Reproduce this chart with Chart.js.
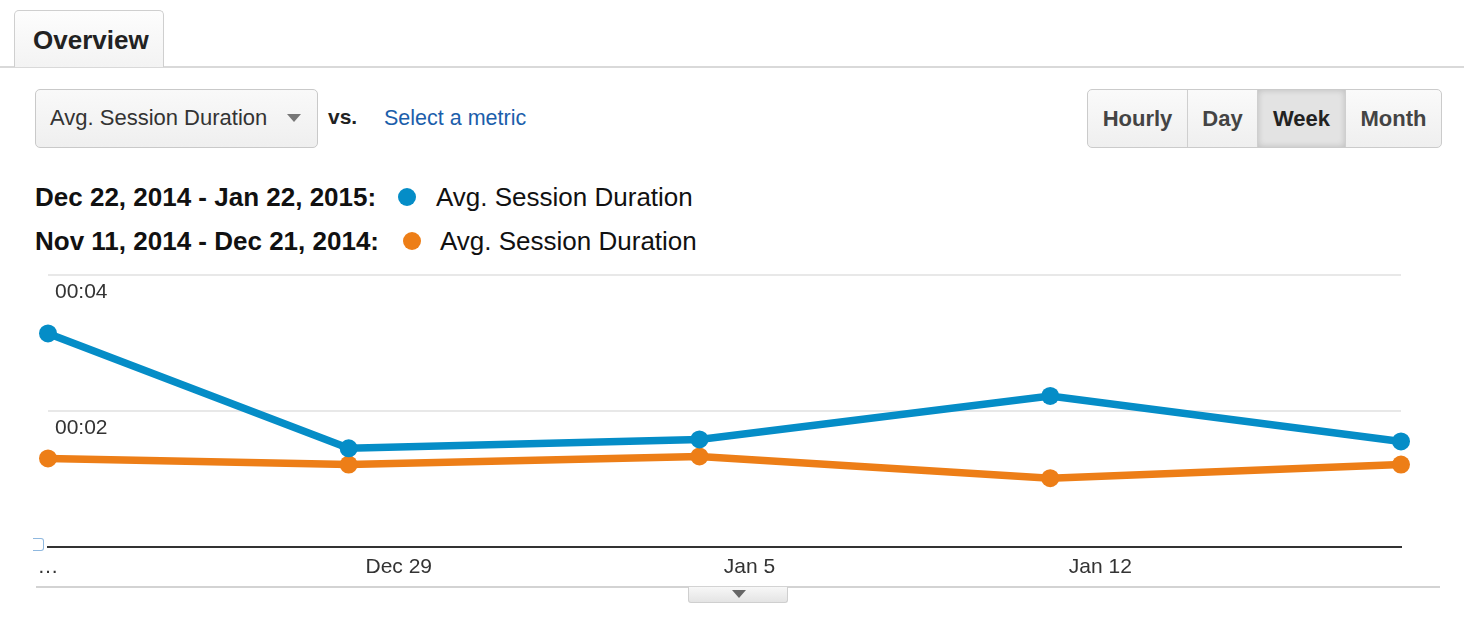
<!DOCTYPE html>
<html>
<head>
<meta charset="utf-8">
<script src="https://cdn.jsdelivr.net/npm/chart.js@4.4.1/dist/chart.umd.min.js"></script>
<style>
  body { margin: 0; background: #fff; font-family: "Liberation Sans", Arial, Helvetica, sans-serif; width: 1464px; height: 628px; position: relative; overflow: hidden; }
  .abs { position: absolute; }
  .tabline { left: 0; top: 66px; width: 1464px; height: 2px; background: #d9d9d9; }
  .tab { left: 14px; top: 10px; width: 150px; height: 57px; border: 1.5px solid #cfcfcf; border-bottom: none; border-radius: 5px 5px 0 0; background: linear-gradient(#fdfdfd, #f3f3f3); box-sizing: border-box; }
  .tab span { position: absolute; left: 18px; top: 14px; font-weight: bold; font-size: 26px; color: #222; }
  .dropdown { left: 35px; top: 89px; width: 283px; height: 59px; border: 1.5px solid #c9c9c9; border-radius: 5px; background: linear-gradient(#f9f9f9, #efefef); box-sizing: border-box; }
  .dropdown span { position: absolute; left: 14px; top: 15px; font-size: 22px; color: #333; }
  .caret { width: 0; height: 0; border-left: 7px solid transparent; border-right: 7px solid transparent; border-top: 8px solid #777; }
  .vs { left: 328px; top: 105px; font-size: 21px; font-weight: bold; color: #222; }
  .link { left: 384px; top: 106px; font-size: 21.5px; color: #1b5eab; }
  .btns { left: 1087px; top: 89px; width: 355px; height: 59px; border: 1.5px solid #cbcbcb; border-radius: 5px; box-sizing: border-box; overflow: hidden; display: flex; background: linear-gradient(#fafafa, #efefef); }
  .btns div { height: 100%; font-size: 22px; font-weight: bold; color: #444; display: flex; align-items: center; justify-content: center; border-right: 1.5px solid #cfcfcf; box-sizing: border-box; }
  .btns div:last-child { border-right: none; }
  .btns .on { background: #e3e3e3; box-shadow: inset 0 0 6px rgba(0,0,0,0.18); color: #222; }
  .leg { font-size: 26px; color: #111; }
  .leg b { position: absolute; left: 35px; top: 0; white-space: nowrap; }
  .leg i { position: absolute; width: 18px; height: 18px; border-radius: 50%; top: 6px; }
  .leg span { position: absolute; top: 0; white-space: nowrap; }
  .bottomline { left: 36px; top: 586px; width: 1404px; height: 2px; background: #d3d3d3; }
  .handle { left: 688px; top: 587px; width: 100px; height: 16px; background: linear-gradient(#f7f7f7, #e4e4e4); border: 1px solid #cfcfcf; border-top: none; border-radius: 0 0 3px 3px; box-sizing: border-box; }
  .note { left: 33px; top: 538px; width: 11px; height: 13px; border: 1.5px solid #8fb8df; border-left: none; border-radius: 0 3px 3px 0; background: #fff; box-sizing: border-box; }
</style>
</head>
<body>
<div class="abs tabline"></div>
<div class="abs tab"><span>Overview</span></div>

<div class="abs dropdown"><span>Avg. Session Duration</span><div class="abs caret" style="left:251px;top:24px;"></div></div>
<div class="abs vs">vs.</div>
<div class="abs link">Select a metric</div>

<div class="abs btns">
  <div style="width:100px">Hourly</div>
  <div style="width:70px">Day</div>
  <div class="on" style="width:88px">Week</div>
  <div style="flex:1">Month</div>
</div>

<div class="abs leg" style="left:0;top:182px;width:800px;height:32px;">
  <b>Dec 22, 2014 - Jan 22, 2015:</b><i style="left:398px;background:#058dc7;"></i><span style="left:436px;">Avg. Session Duration</span>
</div>
<div class="abs leg" style="left:0;top:226px;width:800px;height:32px;">
  <b>Nov 11, 2014 - Dec 21, 2014:</b><i style="left:403px;background:#ed7e17;"></i><span style="left:440px;">Avg. Session Duration</span>
</div>

<div class="abs" style="left:0;top:250px;width:1464px;height:340px;"><canvas id="chart"></canvas></div>
<div class="abs note"></div>

<div class="abs bottomline"></div>
<div class="abs handle"><div class="abs caret" style="left:43px;top:3px;border-top-color:#666;"></div></div>

<script>
// week start of each point, as days from Dec 22, 2014
var weekStarts = ["Dec 22", "Dec 28", "Jan 4", "Jan 11", "Jan 18"];
var dayOffsets = [0, 6, 13, 20, 27];
// avg session duration in seconds
var currentSeconds = [3.14, 1.45, 1.58, 2.22, 1.55];
var previousSeconds = [1.30, 1.21, 1.33, 1.01, 1.21];
var tickDays = [0, 7, 14, 21];
var tickLabels = ["\u2026", "Dec 29", "Jan 5", "Jan 12"];
var yTicks = [0, 2, 4];

function pts(vals) {
	var out = [];
	for (var i in vals) {
		out.push({x: dayOffsets[i], y: vals[i]});
	}
	return out;
}

function fmt(sec) {
	var m = Math.floor(sec / 60), s = Math.round(sec % 60);
	return (m < 10 ? "0" : "") + m + ":" + (s < 10 ? "0" : "") + s;
}

var chartdata = {
	datasets: [
		{
			label: "Dec 22, 2014 - Jan 22, 2015",
			data: pts(currentSeconds),
			borderColor: "#058dc7",
			backgroundColor: "#058dc7",
			borderWidth: 7.5,
			pointRadius: 9,
			pointBorderWidth: 0,
			lineTension: 0,
			fill: false,
			clip: false
		},
		{
			label: "Nov 11, 2014 - Dec 21, 2014",
			data: pts(previousSeconds),
			borderColor: "#ed7e17",
			backgroundColor: "#ed7e17",
			borderWidth: 7.5,
			pointRadius: 9,
			pointBorderWidth: 0,
			lineTension: 0,
			fill: false,
			clip: false
		}
	]
};

var ctx = document.getElementById("chart");

var LineGraph = new Chart(ctx, {
	type: "line",
	data: chartdata,
	options: {
		responsive: true,
		maintainAspectRatio: false,
		animation: false,
		layout: { padding: { left: 34, right: 63, top: 25, bottom: 2 } },
		plugins: { legend: { display: false }, tooltip: { enabled: false } },
		scales: {
			x: {
				type: "linear",
				min: dayOffsets[0],
				max: dayOffsets[dayOffsets.length - 1],
				afterBuildTicks: function(scale) {
					scale.ticks = tickDays.map(function(v) { return {value: v}; });
				},
				grid: { display: false, drawTicks: false },
				border: { display: true, color: "#333", width: 2 },
				ticks: {
					padding: 8,
					color: "#333",
					font: { family: "Liberation Sans", size: 21 },
					maxRotation: 0,
					autoSkip: false,
					callback: function(value) {
						var i = tickDays.indexOf(value);
						return i >= 0 ? tickLabels[i] : "";
					}
				}
			},
			y: {
				min: yTicks[0],
				max: yTicks[yTicks.length - 1],
				afterBuildTicks: function(scale) {
					scale.ticks = yTicks.map(function(v) { return {value: v}; });
				},
				border: { display: false },
				grid: {
					drawTicks: false,
					lineWidth: 2,
					color: function(c) { return c.tick && c.tick.value === 0 ? "rgba(0,0,0,0)" : "#e8e8e8"; }
				},
				ticks: {
					mirror: true,
					padding: 7,
					labelOffset: 17,
					color: "#333",
					font: { family: "Liberation Sans", size: 21 },
					callback: function(value) { return value === 0 ? "" : fmt(value); }
				}
			}
		}
	}
});
</script>
</body>
</html>
